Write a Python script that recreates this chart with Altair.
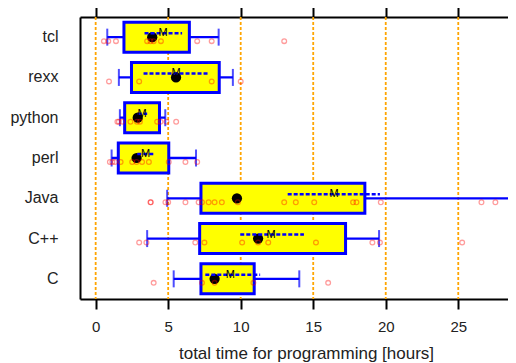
import altair as alt
import pandas as pd

langs = ["tcl", "rexx", "python", "perl", "Java", "C++", "C"]
whisk_lo = [0.8, 1.6, 1.67, 1.1, 4.93, 3.55, 5.38]
q1 = [1.95, 2.47, 2.0, 1.56, 7.26, 7.17, 7.26]
median = [3.9, 5.54, 2.9, 2.82, 9.74, 11.2, 8.2]
q3 = [6.46, 8.52, 4.4, 5.04, 18.56, 17.23, 10.93]
whisk_hi = [8.48, 9.46, 4.8, 6.92, 63.0, 19.54, 14.04]
mean = [4.65, 5.54, 3.2, 3.44, 16.43, 12.1, 9.28]
mean_lo = [3.37, 3.3, 2.9, 2.87, 13.24, 9.97, 7.56]
mean_hi = [5.96, 7.75, 3.55, 4.1, 19.6, 14.36, 11.34]

points = {
    "tcl": [0.57, 0.87, 1.4, 3.55, 3.78, 4.0, 4.5, 7.0, 8.0, 13.0],
    "rexx": [0.92, 3.0, 8.0, 10.0],
    "python": [1.5, 1.6, 1.83, 2.4, 2.85, 3.05, 4.24, 4.47, 4.88, 5.55],
    "perl": [0.98, 1.15, 1.33, 1.72, 2.52, 2.82, 3.2, 3.67, 5.04, 6.19, 7.0],
    "Java": [3.78, 3.8, 4.81, 5.0, 6.19, 7.1, 7.33, 7.79, 8.2, 8.7, 9.8, 13.0,
             13.8, 15.07, 17.75, 17.98, 19.66, 26.6, 27.56],
    "C++": [3.0, 3.5, 6.87, 7.5, 10.1, 11.2, 11.9, 15.19, 19.08, 19.6, 25.27],
    "C": [4.0, 7.33, 8.2, 10.88, 16.03],
}

tick_vals = [0, 5, 10, 15, 20, 25]

stats = pd.DataFrame({
    "lang": langs, "lo": whisk_lo, "q1": q1, "med": median, "q3": q3,
    "hi": whisk_hi, "mean": mean, "mlo": mean_lo, "mhi": mean_hi,
})
pts = pd.DataFrame([{"lang": k, "v": v} for k, vs in points.items() for v in vs])
grid = pd.DataFrame({"t": tick_vals, "lang": ["tcl"] * len(tick_vals)})

FONT = "Liberation Sans"
xscale = alt.Scale(domain=[-1.08, 28.43], nice=False, zero=False)
yscale = alt.Scale(domain=langs, paddingInner=0, paddingOuter=0)

yaxis = alt.Axis(orient="left", ticks=False, labelPadding=22,
                 labelFontSize=16, labelFont=FONT, labelColor="#222222",
                 domainColor="black", domainWidth=2, title=None, grid=False)
xaxis_bottom = alt.Axis(orient="bottom", values=tick_vals, tickSize=10, tickWidth=2,
                        tickColor="black", domainColor="black", domainWidth=2,
                        labelFontSize=15, labelFont=FONT, labelColor="#222222",
                        labelPadding=10, grid=False,
                        title="total time for programming [hours]",
                        titleFont=FONT, titleFontSize=17, titleFontWeight="normal",
                        titleColor="#222222", titleX=226, titleY=59,
                        titleBaseline="alphabetic")
xaxis_top = alt.Axis(orient="top", values=tick_vals, tickSize=10, tickWidth=2,
                     tickColor="black", domainColor="black", domainWidth=2,
                     labels=False, grid=False, title=None)


def Y():
    return alt.Y("lang:N", scale=yscale, sort=langs, axis=yaxis)


gridl = alt.Chart(grid).mark_rule(color="#ffa500", strokeWidth=1.8, strokeDash=[3, 2]).encode(
    x=alt.X("t:Q", scale=xscale, axis=xaxis_top),
    y=alt.value(0), y2=alt.value(282),
)
base = alt.Chart(stats)
whisker = base.mark_rule(color="#0000ff", strokeWidth=2.3, clip=True).encode(
    x=alt.X("lo:Q", scale=xscale, axis=xaxis_bottom), x2="hi:Q", y=Y()
)
cap_lo = base.mark_tick(color="#0000ff", size=17, thickness=2, clip=True).encode(
    x=alt.X("lo:Q", scale=xscale, axis=None), y=Y()
)
cap_hi = base.mark_tick(color="#0000ff", size=17, thickness=2, clip=True).encode(
    x=alt.X("hi:Q", scale=xscale, axis=None), y=Y()
)
box = base.mark_bar(fill="#ffff00", stroke="#0000ff", strokeWidth=3, height=30).encode(
    x=alt.X("q1:Q", scale=xscale, axis=None), x2="q3:Q", y=Y()
)
med = base.mark_circle(color="black", size=105, opacity=1).encode(
    x=alt.X("med:Q", scale=xscale, axis=None), y=Y()
)
meanline = base.mark_rule(color="#0000ff", strokeWidth=2.5, strokeDash=[4, 2], yOffset=-4).encode(
    x=alt.X("mlo:Q", scale=xscale, axis=None), x2="mhi:Q", y=Y()
)
mtext = base.mark_text(text="M", fontSize=11, font=FONT, color="black", yOffset=-4,
                       baseline="middle").encode(
    x=alt.X("mean:Q", scale=xscale, axis=None), y=Y()
)
pnts = alt.Chart(pts).mark_point(shape="circle", filled=False, stroke="#ff0000",
                                  strokeOpacity=0.55, strokeWidth=1.3, size=22,
                                  yOffset=4, clip=True).encode(
    x=alt.X("v:Q", scale=xscale, axis=None), y=Y()
)

chart = alt.layer(gridl, whisker, cap_lo, cap_hi, box, med, meanline, mtext, pnts).properties(
    width=428, height=282, autosize="none",
    padding={"left": 72, "top": 9, "right": 0, "bottom": 64},
).configure_view(stroke=None)

chart.save("out.html", embed_options={"renderer": "svg", "actions": False})
